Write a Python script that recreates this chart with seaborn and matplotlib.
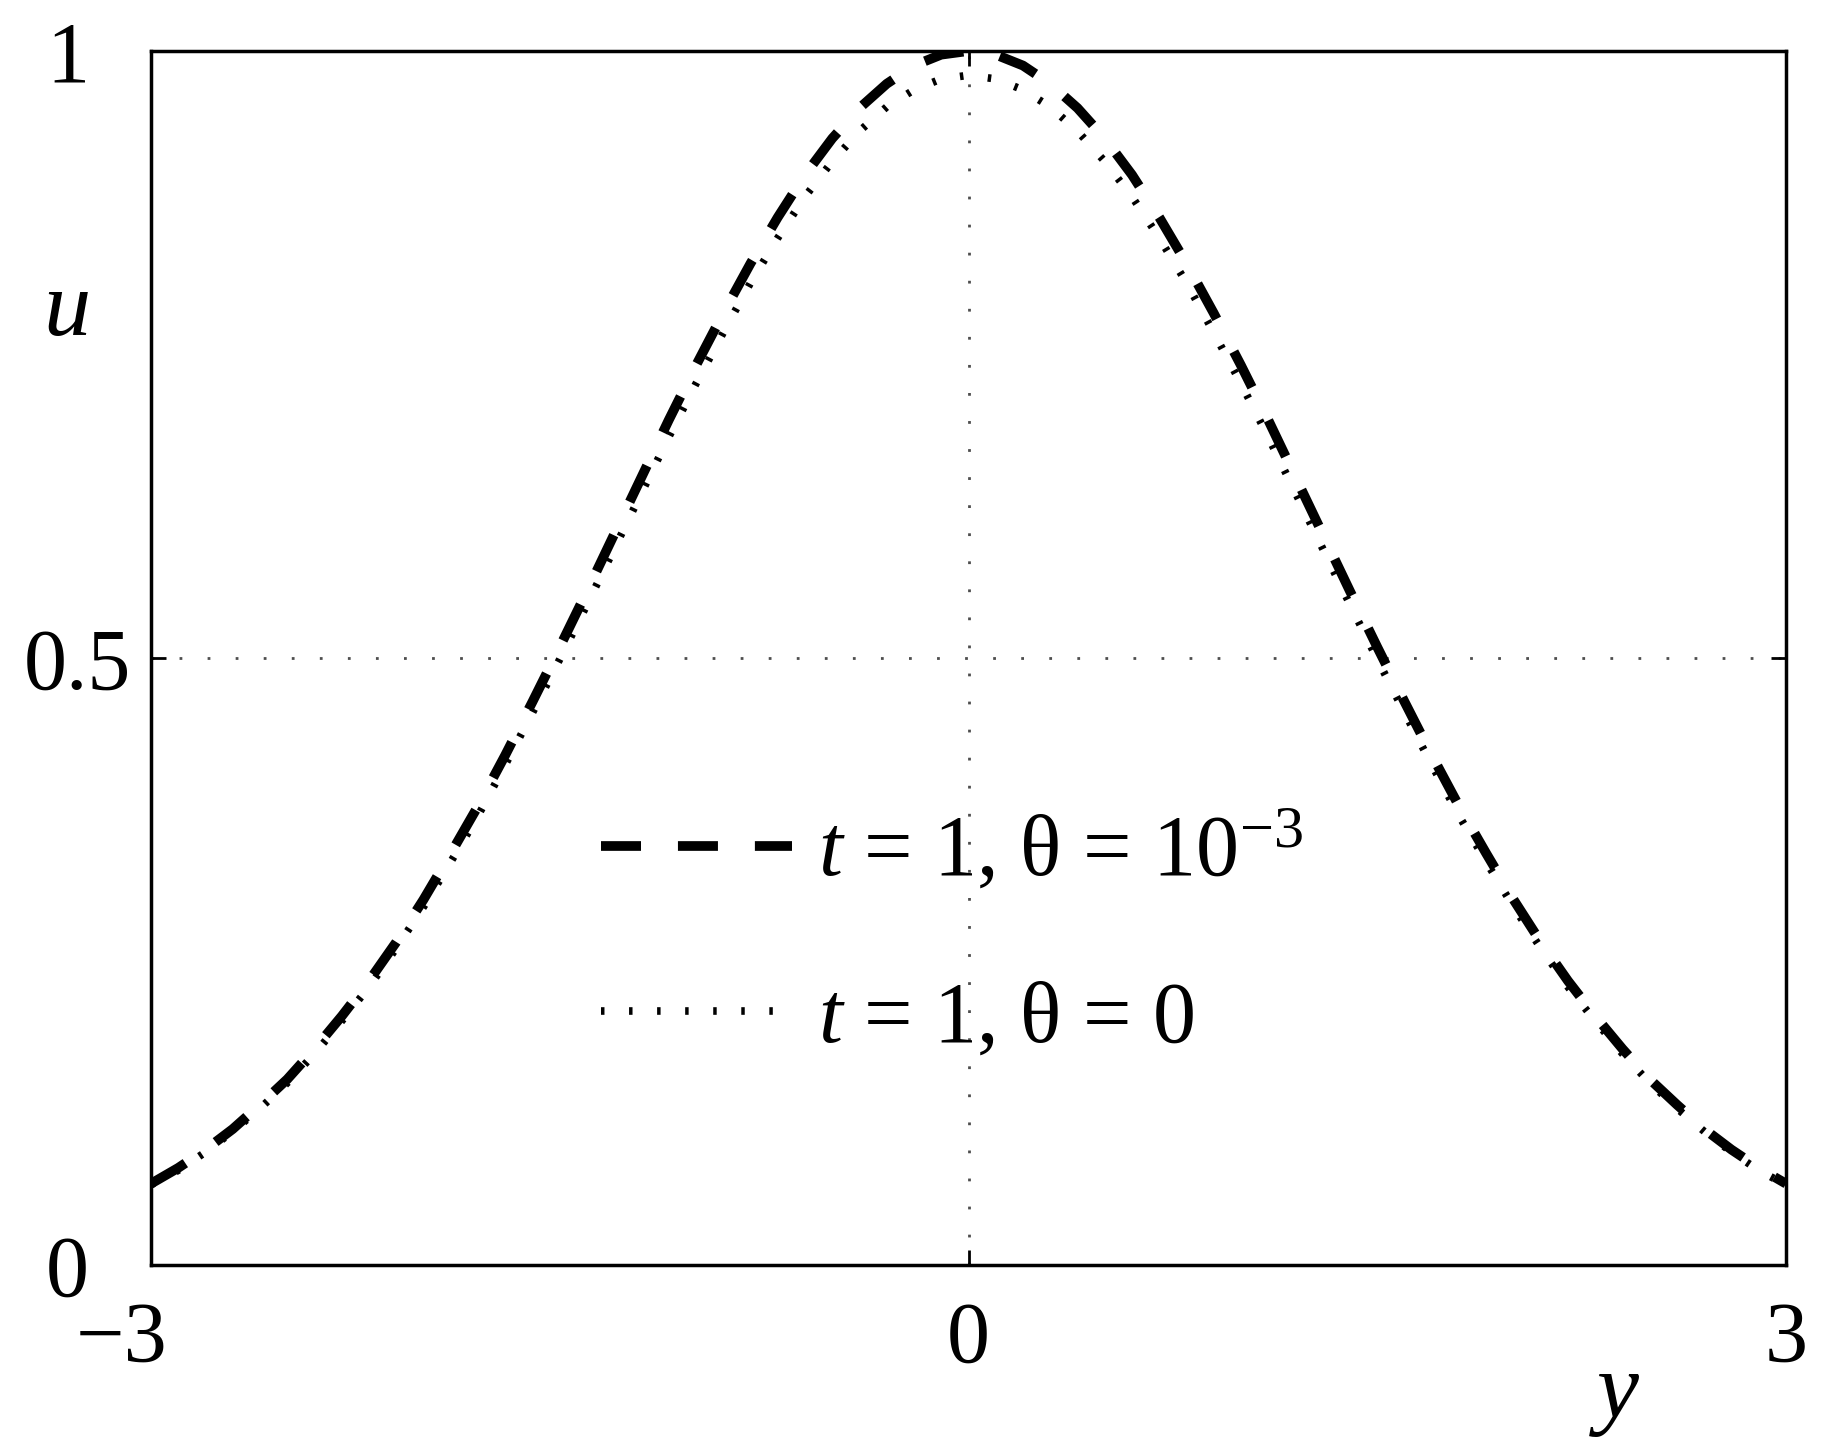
import numpy as np
import pandas as pd
import matplotlib
matplotlib.use("Agg")
import matplotlib.pyplot as plt
import matplotlib.transforms as mtransforms
import seaborn as sns

# ---- data ----
y_values = [-3.0, -2.9, -2.8, -2.7, -2.6, -2.5, -2.4, -2.3, -2.2, -2.1,
            -2.0, -1.9, -1.8, -1.7, -1.6, -1.5, -1.4, -1.3, -1.2, -1.1,
            -1.0, -0.9, -0.8, -0.7, -0.6, -0.5, -0.4, -0.3, -0.2, -0.1,
            0.0, 0.1, 0.2, 0.3, 0.4, 0.5, 0.6, 0.7, 0.8, 0.9,
            1.0, 1.1, 1.2, 1.3, 1.4, 1.5, 1.6, 1.7, 1.8, 1.9,
            2.0, 2.1, 2.2, 2.3, 2.4, 2.5, 2.6, 2.7, 2.8, 2.9, 3.0]

u_theta_1e3 = [0.067, 0.080, 0.095, 0.112, 0.132, 0.153, 0.178, 0.205, 0.234, 0.266,
               0.301, 0.339, 0.378, 0.420, 0.464, 0.509, 0.555, 0.602, 0.649, 0.696,
               0.741, 0.784, 0.825, 0.863, 0.898, 0.928, 0.953, 0.973, 0.988, 0.997,
               1.000, 0.997, 0.988, 0.973, 0.953, 0.928, 0.898, 0.863, 0.825, 0.784,
               0.741, 0.696, 0.649, 0.602, 0.555, 0.509, 0.464, 0.420, 0.378, 0.339,
               0.301, 0.266, 0.234, 0.205, 0.178, 0.153, 0.132, 0.112, 0.095, 0.080, 0.067]

u_theta_0 = [0.066, 0.078, 0.093, 0.110, 0.129, 0.150, 0.174, 0.201, 0.229, 0.261,
             0.295, 0.332, 0.370, 0.412, 0.455, 0.499, 0.544, 0.590, 0.636, 0.682,
             0.726, 0.768, 0.809, 0.846, 0.880, 0.909, 0.934, 0.954, 0.968, 0.977,
             0.980, 0.977, 0.968, 0.954, 0.934, 0.909, 0.880, 0.846, 0.809, 0.768,
             0.726, 0.682, 0.636, 0.590, 0.544, 0.499, 0.455, 0.412, 0.370, 0.332,
             0.295, 0.261, 0.229, 0.201, 0.174, 0.150, 0.129, 0.110, 0.093, 0.078, 0.066]

series_labels = [r"$t$ = 1, θ = 10$^{-3}$", r"$t$ = 1, θ = 0"]
x_ticks = [-3, 0, 3]
x_tick_labels = ["−3", "0", "3"]
y_ticks = [0, 0.5, 1]
y_tick_labels = ["0", "0.5", "1"]

# ---- style ----
sns.set_style("ticks")
plt.rcParams["font.family"] = ["Liberation Serif", "DejaVu Serif"]
plt.rcParams["mathtext.fontset"] = "custom"
plt.rcParams["mathtext.rm"] = "Liberation Serif"
plt.rcParams["mathtext.it"] = "Liberation Serif:italic"
plt.rcParams["lines.scale_dashes"] = False
plt.rcParams["text.color"] = "black"
plt.rcParams["axes.labelcolor"] = "black"
plt.rcParams["xtick.color"] = "black"
plt.rcParams["ytick.color"] = "black"
plt.rcParams["legend.labelcolor"] = "black"

fig = plt.figure(figsize=(18.24, 14.51), dpi=100)
ax = fig.add_axes([151 / 1824, 1 - 1265 / 1451, 1635 / 1824, 1214 / 1451])

df = pd.DataFrame({"y": y_values, "a": u_theta_1e3, "b": u_theta_0})

sns.lineplot(data=df, x="y", y="a", ax=ax, color="black", lw=7,
             label=series_labels[0], sort=False, zorder=3)
sns.lineplot(data=df, x="y", y="b", ax=ax, color="black", lw=5.5,
             label=series_labels[1], sort=False, zorder=4)
ax.lines[0].set_dashes((28.8, 26.6))
ax.lines[1].set_dashes((2.5, 17.7))

ax.set_xlim(-3, 3)
ax.set_ylim(0, 1)
ax.set_xticks(x_ticks)
ax.set_xticklabels(x_tick_labels)
ax.set_yticks(y_ticks)
ax.set_yticklabels(y_tick_labels)

for sp in ax.spines.values():
    sp.set_linewidth(2.5)
    sp.set_color("black")
    sp.set_visible(True)

ax.tick_params(axis="both", direction="in", length=10.8, width=2,
               top=True, right=True, labelsize=62, colors="black",
               labelcolor="black")
ax.tick_params(axis="x", pad=26)
ax.tick_params(axis="y", pad=60)

ax.grid(True, color=(0.3, 0.3, 0.3), lw=2, dashes=(2, 18.2))

for lab in ax.get_yticklabels():
    lab.set_horizontalalignment("center")

# nudge individual labels like the reference
xl = ax.get_xticklabels()
xl[0].set_transform(xl[0].get_transform() +
                    mtransforms.ScaledTranslation(-0.29, 0, fig.dpi_scale_trans))
yl = ax.get_yticklabels()
yl[1].set_transform(yl[1].get_transform() +
                    mtransforms.ScaledTranslation(0.10, 0, fig.dpi_scale_trans))

ax.set_xlabel("y", fontsize=68, style="italic", color="black")
ax.xaxis.set_label_coords(0.897, -0.107)
ax.xaxis.label.set_verticalalignment("center")
ax.set_ylabel("u", fontsize=68, style="italic", rotation=0, color="black")
ax.yaxis.set_label_coords(-0.0514, 0.785)
ax.yaxis.label.set_verticalalignment("center")
ax.yaxis.label.set_horizontalalignment("center")

leg = ax.legend(loc="center left", bbox_to_anchor=(0.275, 0.272),
                frameon=False, fontsize=62, handlelength=2.22,
                handletextpad=0.3, labelspacing=1.0, borderpad=0,
                borderaxespad=0)
for t in leg.get_texts():
    t.set_color("black")

fig.savefig("out.png", dpi=100)
